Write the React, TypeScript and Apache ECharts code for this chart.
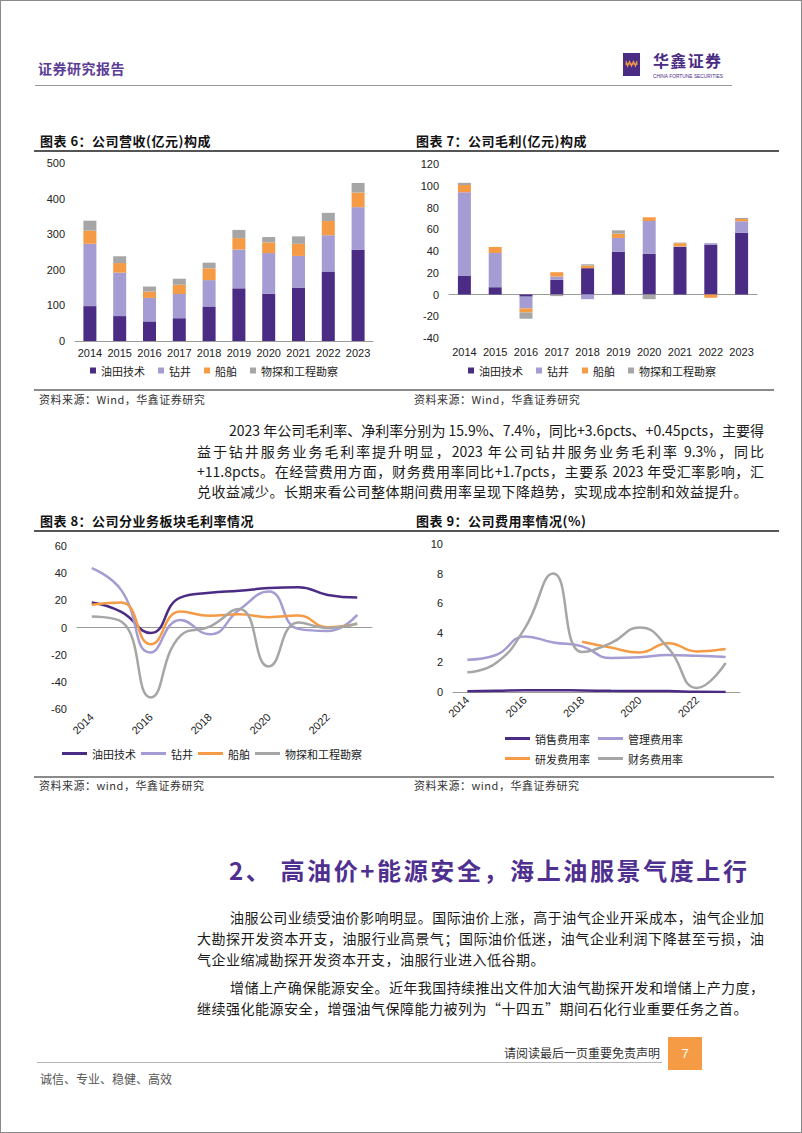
import React, { useEffect, useRef } from "react";
import * as echarts from "echarts";

// ---------- data ----------
const years = ["2014", "2015", "2016", "2017", "2018", "2019", "2020", "2021", "2022", "2023"];
const segNames = ["油田技术", "钻井", "船舶", "物探和工程勘察"];

// 图表6 营收(亿元)
const revOilfield = [98, 70, 55, 64, 97, 148, 133, 150, 195, 256];
const revDrilling = [175, 122, 66, 68, 74, 109, 114, 89, 102, 120];
const revShipping = [37, 27, 18, 26, 33, 32, 30, 34, 40, 41];
const revGeo = [28, 19, 14, 17, 16, 23, 15, 21, 23, 27];

// 图表7 毛利(亿元)
const gpOilfield = [17, 6.7, -2, 13.5, 24.2, 39.4, 37.6, 43.7, 45.9, 56.9];
const gpDrilling = [77, 31.5, -10.8, 3, -4.3, 12.6, 30, 0.5, 1.2, 10.4];
const gpShipping = [6.7, 5.5, -3.7, 4, 2.4, 4, 3.4, 3, -3, 2.1];
const gpGeo = [2, 0, -5.8, -1.5, 1.2, 3, -4.3, 0.5, 0.3, 1];

// 图表8 分业务毛利率(%)
const gmOilfield = [18.4, 11.5, -4, 22, 25.5, 27, 29, 29.7, 24, 22];
const gmDrilling = [43.7, 27.5, -18.4, 5.6, -5, 13, 26.5, -1, -2.5, 9.3];
const gmShipping = [16.7, 18.4, -12.3, 11.8, 8.6, 9.8, 7.6, 8.8, 0.2, 2.7];
const gmGeo = [8.1, 4.4, -51.5, -6.1, 0.7, 13.7, -28.7, 3.7, -0.3, 2.9];

// 图表9 费用率(%)
const rateNames = ["销售费用率", "管理费用率", "研发费用率", "财务费用率"];
const sellRate = [0.05, 0.08, 0.12, 0.12, 0.1, 0.08, 0.07, 0.06, 0.01, 0.0];
const mgmtRate = [2.18, 2.5, 3.75, 3.35, 3.08, 2.29, 2.34, 2.5, 2.45, 2.36];
const rdRate = [null, null, null, null, 3.4, 3.0, 2.67, 3.3, 2.74, 2.9];
const finRate = [1.33, 1.96, 4.3, 8.0, 2.7, 3.3, 4.36, 2.97, 0.27, 1.96];

// ---------- styles ----------
const DARK = "#4B2C85";
const LIGHT = "#A49CD3";
const ORANGE = "#F59A45";
const GRAY = "#A6A6A6";
const segColors = [DARK, LIGHT, ORANGE, GRAY];
const PURPLE_TEXT = "#4F2F8F";
const NUM_FONT = "'Liberation Sans', Arial, sans-serif";
const CJK_FONT = "'Noto Sans CJK SC', sans-serif";
const AXIS_GRAY = "#9a9a9a";

const yAxisBase = (min: number, max: number, interval: number) => ({
  type: "value",
  min,
  max,
  interval,
  splitLine: { show: false },
  axisLine: { show: false },
  axisTick: { show: false },
  axisLabel: { color: "#222", fontSize: 11, fontFamily: NUM_FONT, margin: 10 },
});

const legendText = { color: "#222", fontSize: 11, fontFamily: CJK_FONT };

function barOption(
  series: number[][],
  min: number,
  max: number,
  interval: number,
  grid: any,
  twoAxes: boolean
) {
  const labelAxis = {
    type: "category",
    data: years,
    position: "bottom",
    axisLine: { show: false, onZero: false },
    axisTick: { show: false },
    axisLabel: { color: "#222", fontSize: 11, fontFamily: NUM_FONT, margin: 8, interval: 0 },
  };
  const lineAxis = {
    type: "category",
    data: years,
    position: "bottom",
    axisLine: { onZero: true, lineStyle: { color: AXIS_GRAY, width: 1 } },
    axisTick: { length: 4, lineStyle: { color: AXIS_GRAY } },
    axisLabel: twoAxes
      ? { show: false }
      : { color: "#222", fontSize: 11, fontFamily: NUM_FONT, margin: 6, interval: 0 },
  };
  return {
    animation: false,
    grid: { ...grid, outerBoundsMode: "none" },
    xAxis: twoAxes ? [lineAxis, labelAxis] : [lineAxis],
    yAxis: yAxisBase(min, max, interval),
    legend: {
      left: twoAxes ? 58 : 60,
      top: 210,
      padding: 0,
      itemWidth: 6,
      itemHeight: 6,
      itemGap: 13,
      textStyle: legendText,
      data: segNames.map((n) => ({ name: n, icon: "rect" })),
    },
    series: series.map((d, i) => ({
      name: segNames[i],
      type: "bar",
      stack: "total",
      barWidth: 13,
      xAxisIndex: 0,
      data: d,
      itemStyle: { color: segColors[i] },
    })),
  };
}

const chart6Option = barOption(
  [revOilfield, revDrilling, revShipping, revGeo],
  0,
  500,
  100,
  { left: 45, top: 8, width: 298, height: 178 },
  false
);

const chart7Option = barOption(
  [gpOilfield, gpDrilling, gpShipping, gpGeo],
  -40,
  120,
  20,
  { left: 39, top: 9, width: 308, height: 174 },
  true
);

const lineSeries = (name: string, data: any[], color: string) => ({
  name,
  type: "line",
  data,
  smooth: true,
  symbol: "none",
  xAxisIndex: 0,
  lineStyle: { color, width: 2.5 },
  itemStyle: { color },
});

const chart8Option = {
  animation: false,
  grid: { left: 47, top: 11, width: 295, height: 163, outerBoundsMode: "none" },
  xAxis: [
    {
      type: "category",
      data: years,
      position: "bottom",
      axisLine: { onZero: true, lineStyle: { color: AXIS_GRAY } },
      axisTick: { length: 4, lineStyle: { color: AXIS_GRAY } },
      axisLabel: { show: false },
    },
    {
      type: "category",
      data: years,
      position: "bottom",
      axisLine: { show: false, onZero: false },
      axisTick: { show: false },
      axisLabel: { color: "#222", fontSize: 11, fontFamily: NUM_FONT, margin: 6, rotate: 45, interval: 1 },
    },
  ],
  yAxis: yAxisBase(-60, 60, 20),
  legend: {
    left: 32,
    top: 213,
    padding: 0,
    itemWidth: 25,
    itemHeight: 3,
    itemGap: 5,
    textStyle: legendText,
    data: segNames.map((n) => ({ name: n, icon: "rect" })),
  },
  series: [
    lineSeries(segNames[0], gmOilfield, DARK),
    lineSeries(segNames[1], gmDrilling, LIGHT),
    lineSeries(segNames[2], gmShipping, ORANGE),
    lineSeries(segNames[3], gmGeo, GRAY),
  ],
};

const rateColors = [DARK, LIGHT, ORANGE, GRAY];
const chart9Option = {
  animation: false,
  grid: { left: 43, top: 9, width: 287, height: 148, outerBoundsMode: "none" },
  xAxis: {
    type: "category",
    data: years,
    axisLine: { onZero: true, lineStyle: { color: AXIS_GRAY } },
    axisTick: { length: 4, lineStyle: { color: AXIS_GRAY } },
    axisLabel: { color: "#222", fontSize: 11, fontFamily: NUM_FONT, margin: 6, rotate: 45, interval: 1 },
  },
  yAxis: yAxisBase(0, 10, 2),
  legend: [
    {
      left: 95,
      top: 198,
      padding: 0,
      itemWidth: 25,
      itemHeight: 3,
      itemGap: 8,
      textStyle: legendText,
      data: rateNames.slice(0, 2).map((n) => ({ name: n, icon: "rect" })),
    },
    {
      left: 95,
      top: 218,
      padding: 0,
      itemWidth: 25,
      itemHeight: 3,
      itemGap: 8,
      textStyle: legendText,
      data: rateNames.slice(2, 4).map((n) => ({ name: n, icon: "rect" })),
    },
  ],
  series: [
    lineSeries(rateNames[0], sellRate, rateColors[0]),
    lineSeries(rateNames[1], mgmtRate, rateColors[1]),
    lineSeries(rateNames[2], rdRate, rateColors[2]),
    lineSeries(rateNames[3], finRate, rateColors[3]),
  ],
};

// ---------- components ----------
function Chart({ option, left, top, width, height }: any) {
  const ref = useRef<HTMLDivElement>(null);
  useEffect(() => {
    const c = echarts.init(ref.current as HTMLDivElement, null, { renderer: "svg" });
    c.setOption(option);
    return () => c.dispose();
  }, []);
  return <div ref={ref} style={{ position: "absolute", left, top, width, height }} />;
}

function T({ x, y, size, w, justify, style, children }: any) {
  const lh = Math.round(size * 1.5);
  return (
    <div
      style={{
        position: "absolute",
        left: x,
        top: y - lh / 2,
        fontSize: size,
        lineHeight: lh + "px",
        whiteSpace: "nowrap",
        width: w,
        textAlign: justify ? "justify" : "left",
        textAlignLast: justify ? "justify" : "auto",
        ...style,
      }}
    >
      {children}
    </div>
  );
}

function HLine({ x1, x2, y, h, color }: any) {
  return (
    <div style={{ position: "absolute", left: x1, top: y - h / 2, width: x2 - x1, height: h, background: color }} />
  );
}

const titleStyle = { fontWeight: 700, letterSpacing: 0.5, color: "#111" };
const srcStyle = { color: "#333", letterSpacing: 0.5 };
const bodyStyle = { color: "#1a1a1a" };
const lastLine = { color: "#1a1a1a", letterSpacing: 0.5 };

export default function App() {
  return (
    <div
      style={{
        position: "absolute",
        left: 0,
        top: 0,
        width: 802,
        height: 1133,
        background: "#fff",
        fontFamily: CJK_FONT,
        overflow: "hidden",
      }}
    >
      {/* header */}
      <T x={38} y={68} size={14} style={{ fontWeight: 700, color: "#5B3C96", letterSpacing: 0.5 }}>
        证券研究报告
      </T>
      <svg style={{ position: "absolute", left: 620, top: 40, overflow: "visible" }} width={112} height={44}>
        <rect x={3} y={13} width={17} height={23} fill={DARK} />
        <polyline points="6,21 7.5,26 9.5,21.5 11.5,26 13.5,21.5 15.5,26 17,21" fill="none" stroke={ORANGE} strokeWidth={1.2} />
        <line x1={5} y1={24} x2={18} y2={24} stroke={ORANGE} strokeWidth={1} />
        <text x={33} y={27} fontSize={16} fontWeight={700} fill={DARK} fontFamily={CJK_FONT} textLength={68} lengthAdjust="spacing">
          华鑫证券
        </text>
        <text x={33} y={38} fontSize={5} textLength={70} lengthAdjust="spacingAndGlyphs" fill={DARK} fontFamily={NUM_FONT}>
          CHINA FORTUNE SECURITIES
        </text>
      </svg>
      <HLine x1={35} x2={732} y={85} h={1} color="#9a9a9a" />

      {/* titles 6 / 7 */}
      <T x={40} y={141} size={13} style={titleStyle}>
        图表 6：公司营收(亿元)构成
      </T>
      <T x={416} y={141} size={13} style={titleStyle}>
        图表 7：公司毛利(亿元)构成
      </T>
      <HLine x1={34} x2={779} y={151} h={2} color="#555" />

      <Chart option={chart6Option} left={30} top={155} width={370} height={230} />
      <Chart option={chart7Option} left={410} top={155} width={370} height={230} />

      <HLine x1={34} x2={774} y={390} h={1.5} color="#8a8a8a" />
      <T x={39} y={399} size={11} style={srcStyle}>
        资料来源：Wind，华鑫证券研究
      </T>
      <T x={414} y={399} size={11} style={srcStyle}>
        资料来源：Wind，华鑫证券研究
      </T>

      {/* paragraph 1 */}
      <T x={229} y={430} size={14} w={535} justify style={bodyStyle}>
        2023 年公司毛利率、净利率分别为 15.9%、7.4%，同比+3.6pcts、+0.45pcts，主要得
      </T>
      <T x={197} y={451} size={14} w={567} justify style={bodyStyle}>
        益于钻井服务业务毛利率提升明显，2023 年公司钻井服务业务毛利率 9.3%，同比
      </T>
      <T x={197} y={471} size={14} w={567} justify style={bodyStyle}>
        +11.8pcts。在经营费用方面，财务费用率同比+1.7pcts，主要系 2023 年受汇率影响，汇
      </T>
      <T x={197} y={491} size={14} style={lastLine}>
        兑收益减少。长期来看公司整体期间费用率呈现下降趋势，实现成本控制和效益提升。
      </T>

      {/* titles 8 / 9 */}
      <T x={40} y={521} size={13} style={titleStyle}>
        图表 8：公司分业务板块毛利率情况
      </T>
      <T x={416} y={521} size={13} style={titleStyle}>
        图表 9：公司费用率情况(%)
      </T>
      <HLine x1={34} x2={779} y={531} h={2} color="#555" />

      <Chart option={chart8Option} left={30} top={535} width={370} height={235} />
      <Chart option={chart9Option} left={410} top={535} width={370} height={235} />

      <HLine x1={34} x2={774} y={777} h={1.5} color="#8a8a8a" />
      <T x={39} y={785} size={11} style={srcStyle}>
        资料来源：wind，华鑫证券研究
      </T>
      <T x={414} y={785} size={11} style={srcStyle}>
        资料来源：wind，华鑫证券研究
      </T>

      {/* section heading */}
      <T x={229} y={870} size={24} w={518} justify style={{ fontWeight: 700, color: PURPLE_TEXT }}>
        2、 高油价+能源安全，海上油服景气度上行
      </T>

      {/* paragraph 2 */}
      <T x={230} y={917} size={14} w={534} justify style={bodyStyle}>
        油服公司业绩受油价影响明显。国际油价上涨，高于油气企业开采成本，油气企业加
      </T>
      <T x={197} y={938} size={14} w={567} justify style={bodyStyle}>
        大勘探开发资本开支，油服行业高景气；国际油价低迷，油气企业利润下降甚至亏损，油
      </T>
      <T x={197} y={959} size={14} style={lastLine}>
        气企业缩减勘探开发资本开支，油服行业进入低谷期。
      </T>

      {/* paragraph 3 */}
      <T x={230} y={987} size={14} w={534} justify style={bodyStyle}>
        增储上产确保能源安全。近年我国持续推出文件加大油气勘探开发和增储上产力度，
      </T>
      <T x={197} y={1008} size={14} style={lastLine}>
        继续强化能源安全，增强油气保障能力被列为“十四五”期间石化行业重要任务之首。
      </T>

      {/* footer */}
      <T x={504} y={1053} size={12} style={{ color: "#333" }}>
        请阅读最后一页重要免责声明
      </T>
      <HLine x1={37} x2={662} y={1062} h={1} color="#b5b5b5" />
      <div
        style={{
          position: "absolute",
          left: 668,
          top: 1037,
          width: 34,
          height: 33,
          background: ORANGE,
          color: "#fff",
          fontSize: 13,
          lineHeight: "33px",
          textAlign: "center",
          fontFamily: NUM_FONT,
        }}
      >
        7
      </div>
      <T x={40} y={1079} size={12} style={{ color: "#555" }}>
        诚信、专业、稳健、高效
      </T>

      {/* page frame */}
      <div
        style={{
          position: "absolute",
          left: 0,
          top: 0,
          width: 802,
          height: 1133,
          boxSizing: "border-box",
          border: "1px solid #8a8a8a",
          pointerEvents: "none",
        }}
      />
    </div>
  );
}
